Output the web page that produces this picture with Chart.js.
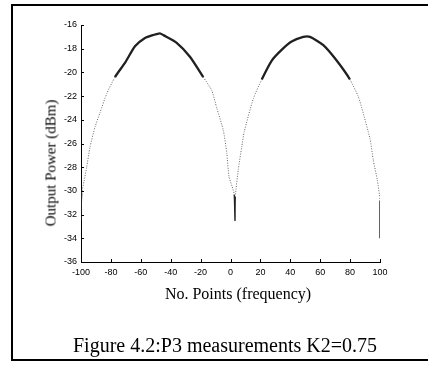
<!DOCTYPE html>
<html>
<head>
<meta charset="utf-8">
<script src="https://cdn.jsdelivr.net/npm/chart.js@4/dist/chart.umd.min.js"></script>
<style>
  html, body { margin: 0; padding: 0; background: #fff; }
  body { width: 428px; height: 365px; position: relative; overflow: hidden; }
  #frame { position: absolute; left: 11px; top: 4px; width: 440px; height: 357px; border: 2px solid #000; box-sizing: border-box; }
  #wrap { position: absolute; left: 0; top: 0; width: 428px; height: 365px; }
  .t { position: absolute; font-family: "Liberation Serif", "Times New Roman", serif; color: #000; white-space: nowrap; }
  #ytitle { left: 51px; top: 163px; font-size: 15px; transform: translate(-50%, -50%) rotate(-90deg); }
  #xtitle { left: 238px; top: 294px; font-size: 16px; transform: translate(-50%, -50%); }
  #caption { left: 225px; top: 345px; font-size: 20px; transform: translate(-50%, -50%); }
</style>
</head>
<body>
<div id="frame"></div>
<div id="wrap"><canvas id="c" width="428" height="365"></canvas></div>
<div class="t" id="ytitle">Output Power (dBm)</div>
<div class="t" id="xtitle">No. Points (frequency)</div>
<div class="t" id="caption">Figure 4.2:P3 measurements K2=0.75</div>
<script>
// Data
const pointsX = [-100,-99.8,-99.5,-98,-96.2,-94,-90.6,-87.3,-82.8,-77.3,-70.6,-63.9,-57.2,-51.8,-47.2,-45,-36,-27,-18.2,-12.6,-9.2,-4.8,-2.5,-1,1,2.5,3,3.2,5.2,7.5,9.2,15.3,20.9,27.6,34.2,40.9,48.7,53.2,62.1,71,79.9,85.5,87.8,93.3,95.5,98.2,100,100];
const powerDbm = [-32.5,-31,-30.2,-29.2,-28,-26.3,-24.6,-23.4,-21.8,-20.4,-19.2,-17.8,-17.1,-16.85,-16.7,-16.85,-17.5,-18.7,-20.4,-21.5,-23,-24.9,-26.8,-28.8,-29.6,-30.3,-32.5,-30.5,-28.2,-26.3,-25,-22.2,-20.6,-19,-18.1,-17.4,-17,-17,-17.7,-19,-20.6,-22.05,-23,-25.6,-27.4,-29.1,-30.8,-34];
const xTicks = [-100,-80,-60,-40,-20,0,20,40,60,80,100];
const yTicks = [-36,-34,-32,-30,-28,-26,-24,-22,-20,-18,-16];

const data = pointsX.map((x, i) => ({ x: x, y: powerDbm[i] }));

const inwardTicks = {
  id: 'inwardTicks',
  afterDraw(chart) {
    const ctx = chart.ctx, xs = chart.scales.x, ys = chart.scales.y;
    const a = chart.chartArea;
    ctx.save();
    ctx.strokeStyle = '#000';
    ctx.lineWidth = 1;
    ctx.beginPath();
    xTicks.forEach(v => {
      const p = Math.round(xs.getPixelForValue(v)) + 0.5;
      ctx.moveTo(p, a.bottom); ctx.lineTo(p, a.bottom - 3);
    });
    yTicks.forEach(v => {
      const p = Math.round(ys.getPixelForValue(v)) + 0.5;
      ctx.moveTo(a.left, p); ctx.lineTo(a.left + 3, p);
    });
    ctx.stroke();
    ctx.restore();
  }
};

const dark = ctx => ctx.p0.parsed.y > -21.2 && ctx.p1.parsed.y > -21.2;
const vert = ctx => Math.abs(ctx.p0.parsed.x - ctx.p1.parsed.x) < 0.6;

new Chart(document.getElementById('c'), {
  type: 'scatter',
  data: {
    datasets: [{
      data: data,
      showLine: true,
      pointRadius: 0,
      borderColor: '#333',
      borderWidth: 1,
      tension: 0.2,
      segment: {
        borderColor: ctx => dark(ctx) ? '#202020' : (vert(ctx) ? '#222' : '#666'),
        borderWidth: ctx => dark(ctx) ? 2.3 : (vert(ctx) ? 1.4 : 1),
        borderDash: ctx => (dark(ctx) || vert(ctx)) ? [] : [1, 1.5]
      }
    }]
  },
  options: {
    responsive: false,
    animation: false,
    layout: { padding: { left: 0, top: 25, right: 48, bottom: 0 } },
    plugins: { legend: { display: false }, tooltip: { enabled: false } },
    scales: {
      x: {
        type: 'linear', min: -100, max: 100,
        afterBuildTicks: s => { s.ticks = xTicks.map(v => ({ value: v })); },
        afterFit: s => { s.height = 103; },
        grid: { display: false, drawTicks: false },
        border: { display: true, color: '#000', width: 1 },
        ticks: { color: '#000', padding: 5, maxRotation: 0, font: { family: 'Liberation Sans', size: 9 } }
      },
      y: {
        type: 'linear', min: -36, max: -16,
        afterBuildTicks: s => { s.ticks = yTicks.map(v => ({ value: v })); },
        afterFit: s => { s.width = 81; },
        grid: { display: false, drawTicks: false },
        border: { display: true, color: '#000', width: 1 },
        ticks: { color: '#000', padding: 4, font: { family: 'Liberation Sans', size: 9 } }
      }
    }
  },
  plugins: [inwardTicks]
});
</script>
</body>
</html>
